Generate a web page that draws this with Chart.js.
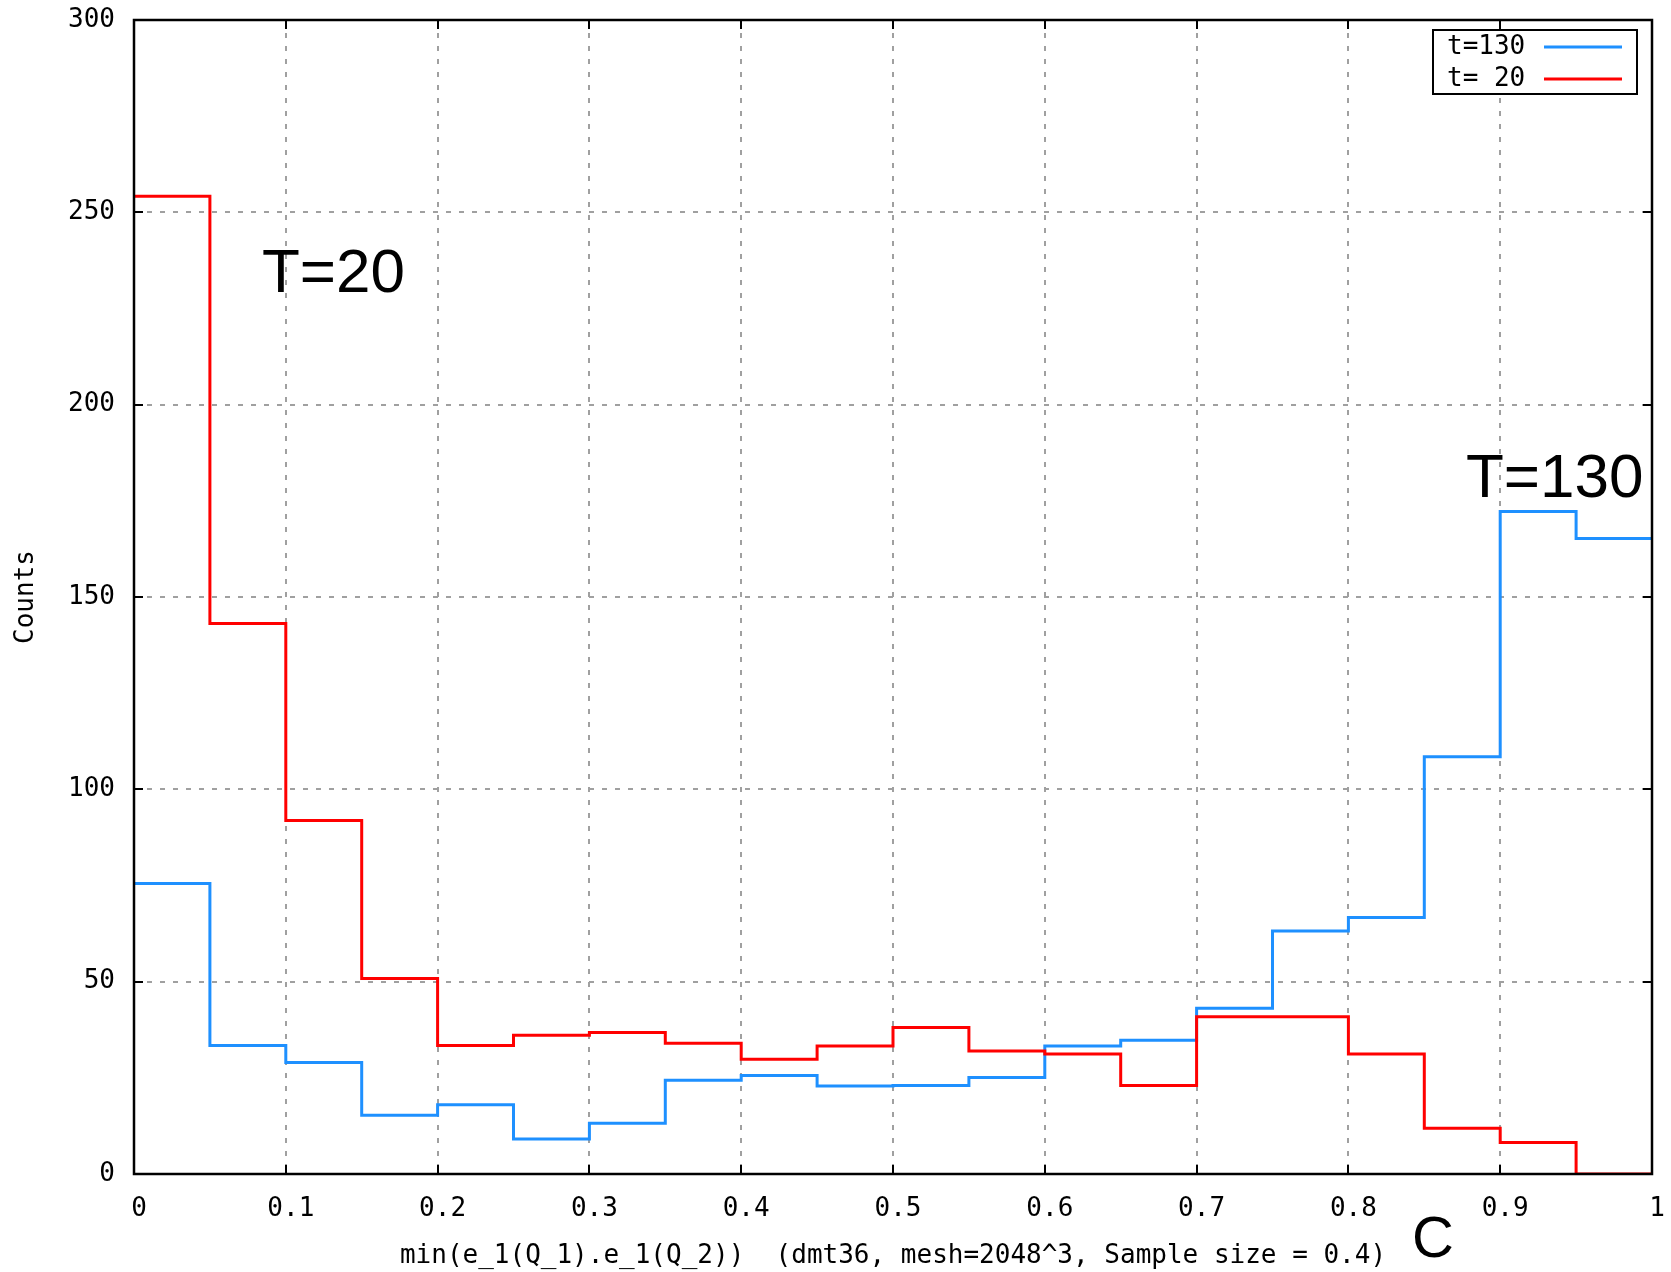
<!DOCTYPE html>
<html>
<head>
<meta charset="utf-8">
<script src="https://cdn.jsdelivr.net/npm/chart.js@4.4.1/dist/chart.umd.min.js"></script>
<style>
  html, body { margin: 0; padding: 0; background: #fff; }
</style>
</head>
<body>
<canvas id="chart" width="1671" height="1272"></canvas>
<script>
// histogram bins (width 0.05), left edges, and the right edge of the last bin
const binLeft = [0, 0.05, 0.1, 0.15, 0.2, 0.25, 0.3, 0.35, 0.4, 0.45,
                 0.5, 0.55, 0.6, 0.65, 0.7, 0.75, 0.8, 0.85, 0.9, 0.95];
const binEnd = 1;

// counts per bin
const countsT130 = [75.5, 33.4, 29.0, 15.3, 18.0, 9.1, 13.2, 24.4, 25.6, 22.9,
                    23.0, 25.1, 33.3, 34.8, 43.1, 63.2, 66.7, 108.5, 172.2, 165.2];
const countsT20 = [254.2, 143.1, 91.9, 50.8, 33.4, 36.1, 36.8, 34.0, 29.8, 33.3,
                   38.1, 32.0, 31.2, 23.0, 40.9, 40.9, 31.2, 11.9, 8.2, 0];

const xTicks = [0, 0.1, 0.2, 0.3, 0.4, 0.5, 0.6, 0.7, 0.8, 0.9, 1];
const xTickLabels = ['0', '0.1', '0.2', '0.3', '0.4', '0.5', '0.6', '0.7', '0.8', '0.9', '1'];
const yTicks = [0, 50, 100, 150, 200, 250, 300];

const BLUE = '#1E90FF';
const RED = '#FF0000';
const MONO = '"DejaVu Sans Mono", "Liberation Mono", monospace';
const SANS = '"Liberation Sans", Arial, sans-serif';

// histeps: one point per bin left edge plus closing point at the last edge
function stepPoints(values) {
    const pts = binLeft.map((x, i) => ({ x: x, y: values[i] }));
    pts.push({ x: binEnd, y: values[values.length - 1] });
    return pts;
}

// frame with inward ticks on all four sides, like gnuplot's border
const framePlugin = {
    id: 'frame',
    afterDatasetsDraw(chart) {
        const { ctx, chartArea: a, scales } = chart;
        const len = 9;
        ctx.save();
        ctx.strokeStyle = '#000';
        ctx.lineWidth = 2;
        ctx.beginPath();
        xTicks.forEach(v => {
            const px = Math.round(scales.x.getPixelForValue(v));
            ctx.moveTo(px, a.bottom); ctx.lineTo(px, a.bottom - len);
            ctx.moveTo(px, a.top); ctx.lineTo(px, a.top + len);
        });
        yTicks.forEach(v => {
            const py = Math.round(scales.y.getPixelForValue(v));
            ctx.moveTo(a.left, py); ctx.lineTo(a.left + len, py);
            ctx.moveTo(a.right, py); ctx.lineTo(a.right - len, py);
        });
        ctx.stroke();
        ctx.lineWidth = 2.5;
        ctx.strokeRect(a.left, a.top, a.right - a.left, a.bottom - a.top);
        ctx.restore();
    }
};

// legend box in the top right corner and the hand-written labels
const notesPlugin = {
    id: 'notes',
    afterDraw(chart) {
        const ctx = chart.ctx;
        const sets = chart.data.datasets;
        ctx.save();
        // legend
        ctx.fillStyle = '#fff';
        ctx.fillRect(1433, 30, 204, 64);
        ctx.strokeStyle = '#000';
        ctx.lineWidth = 2;
        ctx.strokeRect(1433, 30, 204, 64);
        ctx.font = '26px ' + MONO;
        ctx.textBaseline = 'middle';
        ctx.textAlign = 'left';
        sets.forEach((ds, i) => {
            const y = 47 + i * 32;
            ctx.fillStyle = '#000';
            ctx.fillText(ds.label, 1447, y);
            ctx.strokeStyle = ds.borderColor;
            ctx.lineWidth = 3;
            ctx.beginPath();
            ctx.moveTo(1544, y);
            ctx.lineTo(1622, y);
            ctx.stroke();
        });
        // annotations
        ctx.fillStyle = '#000';
        ctx.textBaseline = 'alphabetic';
        ctx.font = '62px ' + SANS;
        ctx.fillText('T=20', 262, 292);
        ctx.fillText('T=130', 1466, 497);
        ctx.font = '58px ' + SANS;
        ctx.fillText('C', 1412, 1257);
        ctx.restore();
    }
};

const ctx = document.getElementById('chart').getContext('2d');
new Chart(ctx, {
    type: 'line',
    data: {
        datasets: [
            {
                label: 't=130',
                data: stepPoints(countsT130),
                borderColor: BLUE,
                borderWidth: 3,
                stepped: 'before',
                pointRadius: 0,
                fill: false,
                clip: 0,
                order: 1
            },
            {
                label: 't= 20',
                data: stepPoints(countsT20),
                borderColor: RED,
                borderWidth: 3,
                stepped: 'before',
                pointRadius: 0,
                fill: false,
                clip: 0,
                order: 0
            }
        ]
    },
    options: {
        responsive: false,
        animation: false,
        layout: { padding: { top: 20, right: 19, left: 0, bottom: 0 } },
        plugins: {
            legend: { display: false },
            tooltip: { enabled: false }
        },
        scales: {
            x: {
                type: 'linear',
                min: 0,
                max: 1,
                afterBuildTicks: (scale) => { scale.ticks = xTicks.map(v => ({ value: v })); },
                afterFit: (scale) => {
                    scale.height = 98;
                    scale.paddingLeft = 0;
                    scale.paddingRight = 0;
                },
                ticks: {
                    color: '#000',
                    font: { family: MONO, size: 26, lineHeight: 1.2 },
                    padding: 20,
                    labelOffset: 5,
                    maxRotation: 0,
                    autoSkip: false,
                    callback: (v, i) => xTickLabels[i]
                },
                grid: { color: '#a0a0a0', lineWidth: 2, drawTicks: false },
                border: { display: false, dash: [5, 8] },
                title: {
                    display: true,
                    text: 'min(e_1(Q_1).e_1(Q_2))  (dmt36, mesh=2048^3, Sample size = 0.4)',
                    color: '#000',
                    font: { family: MONO, size: 26, lineHeight: 1.25 },
                    padding: { top: 0, bottom: 0 }
                }
            },
            y: {
                min: 0,
                max: 300,
                afterBuildTicks: (scale) => { scale.ticks = yTicks.map(v => ({ value: v })); },
                afterFit: (scale) => {
                    scale.width = 134;
                    scale.paddingTop = 0;
                    scale.paddingBottom = 0;
                },
                ticks: {
                    color: '#000',
                    font: { family: MONO, size: 26, lineHeight: 1.2 },
                    padding: 19
                },
                grid: { color: '#a0a0a0', lineWidth: 2, drawTicks: false },
                border: { display: false, dash: [5, 8] },
                title: {
                    display: true,
                    text: 'Counts',
                    color: '#000',
                    font: { family: MONO, size: 26, lineHeight: 1.2 },
                    padding: { top: 11, bottom: 0 }
                }
            }
        }
    },
    plugins: [framePlugin, notesPlugin]
});
</script>
</body>
</html>
